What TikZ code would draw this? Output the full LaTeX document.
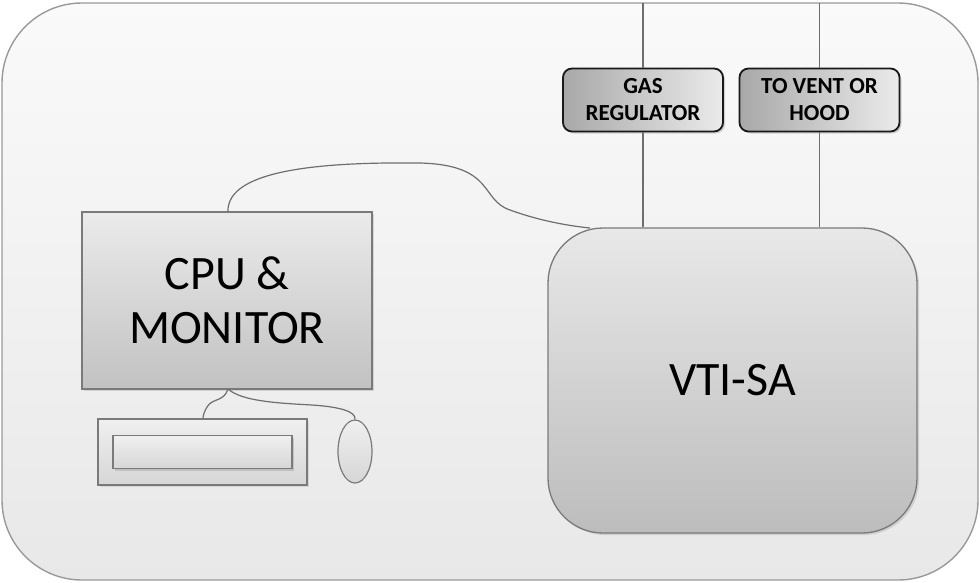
\documentclass[tikz,border=0pt]{standalone}
\usepackage{fontspec}
\setmainfont{Carlito}
\usepackage{tikz}
\usetikzlibrary{calc}
\usetikzlibrary{positioning}
\usetikzlibrary{shadows}
\usetikzlibrary{shapes.geometric}

\definecolor{edge}{HTML}{7A7A7A}
\definecolor{cable}{HTML}{6E6E6E}

\tikzset{
  unit/.style={draw=edge, line width=1.3pt, top color=black!8, bottom color=black!24,
    drop shadow={opacity=0.25, shadow xshift=2pt, shadow yshift=-2pt},
    font=\fontsize{48}{54}\selectfont, align=center, inner sep=0pt},
  tag/.style={draw=black!90, line width=1.8pt, rounded corners=9pt, left color=black!34,
    right color=black!8, minimum width=160pt, minimum height=63pt,
    drop shadow={opacity=0.3, shadow xshift=2pt, shadow yshift=-2pt},
    font=\bfseries\fontsize{23}{27}\selectfont, align=center, inner sep=0pt},
  part/.style={draw=edge, line width=1.2pt, top color=black!6, bottom color=black!16},
  wire/.style={draw=cable, line width=1.2pt}
}

\begin{document}
\begin{tikzpicture}[x=1pt, y=-1pt]

    \useasboundingbox (0,0) rectangle (980,582);

    % outer panel
    \draw [draw=black!40, line width=1.4pt, rounded corners=80pt,
    top color=black!2, bottom color=black!9]
    (2,3) rectangle (978,580);

    % main boxes
    \node [unit, minimum width=290pt, minimum height=177pt] (monitor)
    at (227,300.5) {CPU \&\\MONITOR};

    \node [unit, rounded corners=55pt, minimum width=369pt, minimum height=305pt,
    top color=black!9, bottom color=black!26] (vtisa)
    at (732.5,380.5) {VTI-SA};

    % keyboard and mouse
    \node [part, minimum width=209pt, minimum height=66pt,
    drop shadow={opacity=0.2, shadow xshift=2pt, shadow yshift=-2pt}] (keyboard)
    at (202.5,452) {};
    \node [part, minimum width=179pt, minimum height=33pt,
    drop shadow={opacity=0.3, shadow xshift=2pt, shadow yshift=-2pt}] (keys)
    at (keyboard.center) {};
    \node [part, ellipse, minimum width=34pt, minimum height=63pt, inner sep=0pt] (mouse)
    at (355,451.5) {};

    % gas lines
    \node [tag] (gasreg) at (643,100) {GAS\\REGULATOR};
    \node [tag] (vent) at (819.5,100) {TO VENT OR\\HOOD};

    \coordinate (gasin) at (643,3);
    \coordinate (ventout) at (819.5,3);
    \draw [wire] (gasin) -- (gasreg.north);
    \draw [wire] (gasreg.south) -- (gasreg.south |- vtisa.north);
    \draw [wire] (ventout) -- (vent.north);
    \draw [wire] (vent.south) -- (vent.south |- vtisa.north);

    % cables
    \coordinate (montop) at (228,212);
    \coordinate (monbot) at (228,389);
    \coordinate (vtiport) at (590,228);

    \draw [wire] (montop)
    .. controls (226,168) and (330,162) .. (420,163)
    .. controls (495,165) and (480,200) .. (510,210)
    .. controls (540,221) and (570,226) .. (vtiport);

    \draw [wire] (monbot)
    .. controls (224,402) and (212,398) .. (207,407)
    .. controls (204,412) and (203,416) .. (keyboard.north -| 203,0);

    \draw [wire] (monbot)
    .. controls (242,401) and (275,403) .. (312,405)
    .. controls (342,407) and (356,412) .. (mouse.north);

  \end{tikzpicture}
\end{document}
